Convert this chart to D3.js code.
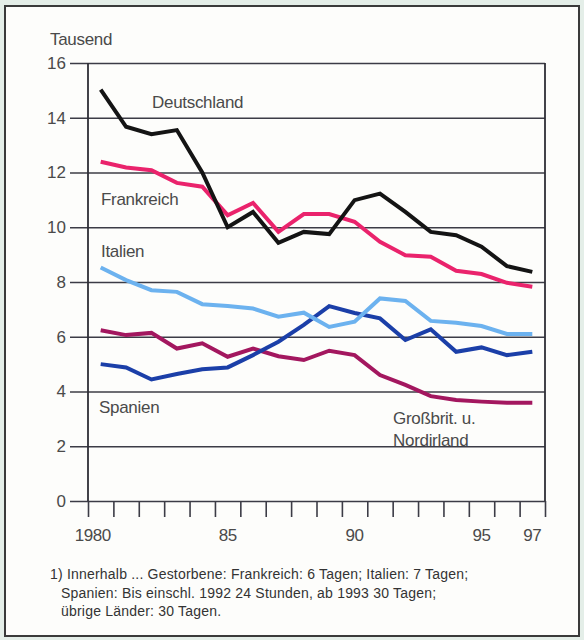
<!DOCTYPE html>
<html>
<head>
<meta charset="utf-8">
<script src="https://cdn.jsdelivr.net/npm/d3@7"></script>
<style>
  html, body { margin: 0; padding: 0; background: #e4eee8; }
  svg text { font-family: "Liberation Sans", Arial, sans-serif; fill: #4a4a4a; }
</style>
</head>
<body>
<div id="svganchor"></div>
<script>
let width = 584;
let height = 640;

// values in Tausend
let years = d3.range(1980, 1998);
let deutschland = [15.03, 13.67, 13.40, 13.55, 12.00, 10.00, 10.56, 9.43, 9.83, 9.75, 10.99, 11.23, 10.56, 9.83, 9.71, 9.29, 8.58, 8.37];
let frankreich = [12.39, 12.18, 12.08, 11.62, 11.48, 10.44, 10.89, 9.83, 10.48, 10.48, 10.20, 9.47, 8.98, 8.92, 8.41, 8.29, 7.97, 7.83];
let italien = [8.53, 8.07, 7.70, 7.64, 7.19, 7.12, 7.03, 6.73, 6.88, 6.36, 6.55, 7.40, 7.31, 6.58, 6.51, 6.39, 6.10, 6.10];
let spanien = [5.00, 4.88, 4.44, 4.64, 4.81, 4.88, 5.33, 5.82, 6.43, 7.12, 6.87, 6.67, 5.88, 6.27, 5.45, 5.61, 5.33, 5.45];
let grossbrit = [6.24, 6.06, 6.14, 5.57, 5.76, 5.27, 5.57, 5.29, 5.15, 5.49, 5.33, 4.60, 4.24, 3.83, 3.69, 3.63, 3.59, 3.59];
let yTicks = [0, 2, 4, 6, 8, 10, 12, 14, 16];
let xLabels = [[1980, "1980"], [1985, "85"], [1990, "90"], [1995, "95"], [1997, "97"]];
let footnote = [
    "1) Innerhalb ... Gestorbene: Frankreich: 6 Tagen; Italien: 7 Tagen;",
    "Spanien: Bis einschl. 1992 24 Stunden, ab 1993 30 Tagen;",
    "übrige Länder: 30 Tagen."
];

let series = [
    {name: "Großbrit.", values: grossbrit, color: "#a3175f"},
    {name: "Spanien", values: spanien, color: "#1b3fa8"},
    {name: "Italien", values: italien, color: "#6cb2ef"},
    {name: "Frankreich", values: frankreich, color: "#ea236c"},
    {name: "Deutschland", values: deutschland, color: "#141414"}
];

let svg = d3.select("#svganchor")
    .append("svg")
    .attr("width", width)
    .attr("height", height);

// outer frame
svg.append("rect")
    .attr("x", 5).attr("y", 6)
    .attr("width", 574).attr("height", 630)
    .attr("fill", "#fdfdfb")
    .attr("stroke", "#3a3a3a")
    .attr("stroke-width", 2);

let xScale = d3.scaleLinear()
    .domain([1979.5, 1997.5])
    .range([88, 545]);

let yScale = d3.scaleLinear()
    .domain([0, 16])
    .range([501, 63]);

// horizontal grid lines with y labels
let yAxis = d3.axisLeft(yScale)
    .tickValues(yTicks)
    .tickSize(-(xScale.range()[1] - 70))
    .tickPadding(5);

svg.append("g")
    .attr("class", "y axis")
    .attr("transform", "translate(" + xScale.range()[1] + ",0)")
    .call(yAxis)
    .call(g => g.select(".domain").remove())
    .call(g => g.selectAll("line")
        .attr("stroke", "#3c3c46")
        .attr("stroke-width", 1.6)
        .attr("x1", 0)
        .attr("x2", -(xScale.range()[1] - 70)))
    .call(g => g.selectAll("text")
        .attr("x", -(xScale.range()[1] - 66))
        .style("font-size", "17px"));

// bottom axis: ticks at year boundaries
let bounds = d3.range(1979.5, 1998, 1);
let xAxis = d3.axisBottom(xScale)
    .tickValues(bounds)
    .tickFormat("")
    .tickSize(16)
    .tickSizeOuter(0);

svg.append("g")
    .attr("class", "x axis")
    .attr("transform", "translate(0," + yScale(0) + ")")
    .call(xAxis)
    .call(g => g.select(".domain").remove())
    .call(g => g.selectAll("line")
        .attr("stroke", "#3c3c46")
        .attr("stroke-width", 1.6));

// left and right vertical axis lines
[xScale.range()[0], xScale.range()[1]].forEach(x => {
    svg.append("line")
        .attr("x1", x).attr("x2", x)
        .attr("y1", yScale(16)).attr("y2", yScale(0))
        .attr("stroke", "#2e2e36")
        .attr("stroke-width", 1.8);
});

svg.selectAll(".xlabel")
    .data(xLabels)
    .enter()
    .append("text")
    .attr("class", "xlabel")
    .attr("x", d => xScale(d[0]) + (d[0] === 1980 ? -8 : 0))
    .attr("y", 541)
    .attr("text-anchor", "middle")
    .style("font-size", "17px")
    .style("letter-spacing", "-0.5px")
    .text(d => d[1]);

// lines
let line = d3.line()
    .x((d, i) => xScale(years[i]))
    .y(d => yScale(d));

svg.selectAll(".series")
    .data(series)
    .enter()
    .append("path")
    .attr("class", "series")
    .attr("fill", "none")
    .attr("stroke", d => d.color)
    .attr("stroke-width", 4)
    .attr("stroke-linejoin", "miter")
    .attr("d", d => line(d.values));

// labels
let labels = [
    {text: "Tausend", x: 50, y: 45},
    {text: "Deutschland", x: 152, y: 108},
    {text: "Frankreich", x: 101, y: 205},
    {text: "Italien", x: 101, y: 257},
    {text: "Spanien", x: 99, y: 413},
    {text: "Großbrit. u.", x: 393, y: 424},
    {text: "Nordirland", x: 393, y: 446}
];

svg.selectAll(".label")
    .data(labels)
    .enter()
    .append("text")
    .attr("class", "label")
    .attr("x", d => d.x)
    .attr("y", d => d.y)
    .style("font-size", "17px")
    .style("letter-spacing", "-0.3px")
    .text(d => d.text);

// footnote
svg.selectAll(".foot")
    .data(footnote)
    .enter()
    .append("text")
    .attr("class", "foot")
    .attr("x", (d, i) => i === 0 ? 50 : 61)
    .attr("y", (d, i) => 579 + i * 18.5)
    .style("font-size", "14px")
    .style("letter-spacing", "0.2px")
    .style("fill", "#333")
    .text(d => d);
</script>
</body>
</html>
